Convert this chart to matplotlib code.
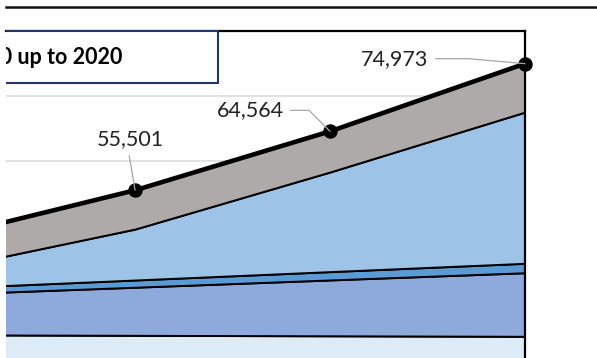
import numpy as np
import matplotlib.pyplot as plt
from matplotlib.patches import Rectangle
from matplotlib.lines import Line2D

plt.rcParams['font.family'] = ['Lato', 'DejaVu Sans']

years = [2005, 2010, 2015, 2020]
totals = [48120, 55501, 64564, 74973]

# stacked bands, bottom to top (the top band fills up to the totals)
pale_band = [33260, 33180, 33110, 33030]
mid_band = [6210, 7400, 8590, 9780]
thin_band = [940, 1110, 1280, 1450]
light_band = [2850, 7840, 15330, 23270]
grey_band = list(np.array(totals) - np.array(pale_band) - np.array(mid_band)
                 - np.array(thin_band) - np.array(light_band))

band_colors = ['#DDEBF7', '#8EA9DB', '#5B9BD5', '#9DC3E6', '#AEAAAA']

title_text = 'Total from 2010 up to 2020'

W, H = 597, 358
fig = plt.figure(figsize=(W / 100, H / 100), dpi=100)
ax = fig.add_axes([6 / W, 0, 519 / W, 327 / H])

ax.stackplot(years, pale_band, mid_band, thin_band, light_band, grey_band,
             colors=band_colors, edgecolor='black', linewidth=1.4, zorder=2)

ax.plot(years, totals, color='black', lw=3.3, zorder=4, solid_capstyle='butt')
ax.plot(years, totals, 'o', color='black', ms=9.4, zorder=5, clip_on=False)

ax.set_xlim(2006.69, 2020)
ax.set_ylim(29692, 80000)
ax.yaxis.set_major_locator(plt.MultipleLocator(10000))
ax.grid(axis='y', color='#D9D9D9', lw=1.1, zorder=0)
ax.set_axisbelow(True)
ax.tick_params(left=False, bottom=False, labelleft=False, labelbottom=False)
for side in ('left', 'bottom'):
    ax.spines[side].set_visible(False)
for side in ('top', 'right'):
    ax.spines[side].set_linewidth(1.6)
    ax.spines[side].set_color('black')

# value labels with leader lines
lead = dict(arrowstyle='-', color='#A6A6A6', lw=0.9)
label_kw = dict(textcoords='offset points', ha='center', va='center',
                fontsize=15.5, color='#222222', zorder=6)
ax.annotate(f'{totals[1]:,}', xy=(years[1], totals[1]), xytext=(-3.6, 37),
            arrowprops=dict(lead, relpos=(0.47, 0), shrinkA=3, shrinkB=0),
            **label_kw)
ax.annotate(f'{totals[2]:,}', xy=(years[2], totals[2]), xytext=(-57.6, 15.1),
            arrowprops=dict(lead, relpos=(1, 0.5), shrinkA=3, shrinkB=0,
                            connectionstyle='angle,angleA=0,angleB=135'),
            **label_kw)
ax.annotate(f'{totals[3]:,}', xy=(years[3], totals[3]), xytext=(-93.6, 3.6),
            annotation_clip=False,
            arrowprops=dict(lead, relpos=(1, 0.5), shrinkA=3, shrinkB=0,
                            connectionstyle='angle,angleA=0,angleB=175'),
            **label_kw)

# title box, cut off at the left edge
clip = Rectangle((6 / W, 0), 1, 1, transform=fig.transFigure)
box = Rectangle((-0.05, 1 - 83 / H), 0.05 + 218 / W, 52 / H,
                transform=fig.transFigure, facecolor='white',
                edgecolor='#1F3864', lw=1.5, zorder=3)
fig.add_artist(box)
box.set_clip_path(clip)
t = fig.text(122 / W, 1 - 57 / H, title_text, ha='right', va='center',
             fontsize=15.5, fontweight='bold', color='black', zorder=4)
t.set_clip_path(clip)

fig.add_artist(Line2D([6 / W, 1], [1 - 7.3 / H] * 2, lw=1.8, color='#111111'))

fig.savefig('out.png', dpi=100)
